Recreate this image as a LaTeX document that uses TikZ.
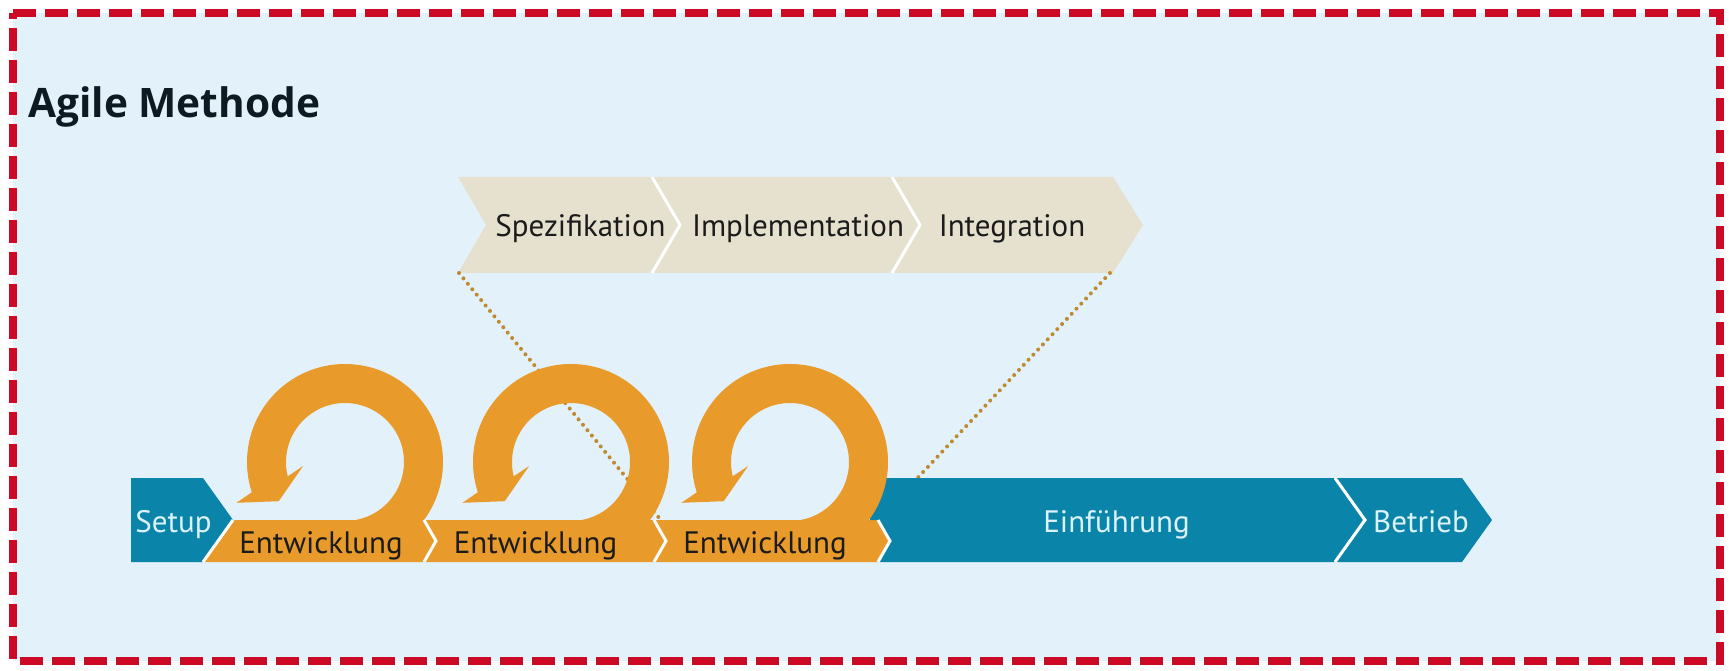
\documentclass[tikz,border=0pt]{standalone}
\usepackage{fontspec}
\setmainfont{PT Sans}
\newfontfamily\headfont{Open Sans}
\usetikzlibrary{calc}
\definecolor{paneblue}{HTML}{E3F2FA}
\definecolor{framered}{HTML}{CC0A25}
\definecolor{phaseblue}{HTML}{0A85A9}
\definecolor{sprintorange}{HTML}{E89A2B}
\definecolor{stepbeige}{HTML}{E6E1CE}
\definecolor{zoomdots}{HTML}{C08A30}
\definecolor{inkdark}{HTML}{1B1B1B}
\definecolor{inklight}{HTML}{DCF2F9}
\definecolor{titleink}{HTML}{0E1A22}

\begin{document}
\begin{tikzpicture}[x=0.5pt, y=0.5pt,
  phase/.style={fill=phaseblue},
  sprint/.style={fill=sprintorange},
  substep/.style={fill=stepbeige},
  gapline/.style={draw=white, line width=1.5pt},
  darklabel/.style={anchor=base, inner sep=0pt, text=inkdark, font=\fontsize{15.5}{18}\selectfont},
  lightlabel/.style={darklabel, text=inklight},
  zoomline/.style={zoomdots, line width=2pt, line cap=round, dash pattern=on 0pt off 3.5pt}]

\useasboundingbox (0,0) rectangle (1729,670);
\fill[white] (0,0) rectangle (1729,670);
\fill[paneblue] (13,9) rectangle (1720,657);
\draw[framered, line width=4pt, dash pattern=on 11.5pt off 4.5pt] (13,657) -- (1720,657) -- (1720,9) -- (13,9) -- cycle;

\node[anchor=base west, inner sep=0pt, text=titleink, font=\headfont\bfseries\fontsize{20.3}{24}\selectfont] (title) at (28,552) {Agile Methode};

% sprint steps on top
\fill[substep] (458,493) -- (652,493) -- (680,445) -- (652,397) -- (458,397) -- (486,445) -- cycle;
\fill[substep] (652,493) -- (892,493) -- (920,445) -- (892,397) -- (652,397) -- (680,445) -- cycle;
\fill[substep] (892,493) -- (1113,493) -- (1143,445) -- (1113,397) -- (892,397) -- (920,445) -- cycle;
\draw[gapline] (652,493) -- (680,445) -- (652,397);
\draw[gapline] (892,493) -- (920,445) -- (892,397);

\coordinate (spec-sw) at (459,397);
\coordinate (integ-se) at (1110,397);
\coordinate (dev3-nw) at (660,151);
\coordinate (dev3-ne) at (879,151);
\draw[zoomline] (spec-sw) -- (dev3-nw);
\draw[zoomline] (integ-se) -- (dev3-ne);

% phases
\fill[phase] (131,192) -- (203,192) -- (233,150) -- (203,108) -- (131,108) -- cycle;
\fill[sprint] (233,150) -- (424,150) -- (436,129) -- (424,108) -- (203,108) -- cycle;
\fill[sprint] (424,150) -- (654,150) -- (666,129) -- (654,108) -- (424,108) -- (436,129) -- cycle;
\fill[sprint] (654,150) -- (878,150) -- (890,129) -- (878,108) -- (654,108) -- (666,129) -- cycle;
\fill[phase] (870,192) -- (1335,192) -- (1365,150) -- (1335,108) -- (878,108) -- (890,129) -- (878,150) -- (870,150) -- cycle;
\fill[phase] (1335,192) -- (1462,192) -- (1492,150) -- (1462,108) -- (1335,108) -- (1365,150) -- cycle;

% loops
\foreach \cx/\lp in {345/loopa, 571/loopb, 790/loopc} {
  \coordinate (\lp) at (\cx,208);
  \fill[sprint] (\lp) ++(-90:98) arc[start angle=-90, end angle=198, radius=98]
    -- ($(\lp)+(200.6:116)$) -- ($(\lp)+(210.6:77)$) -- ($(\lp)+(185.4:42)$)
    -- ($(\lp)+(194:59)$) arc[start angle=194, end angle=-90, radius=59] -- cycle;
}

\draw[gapline] (233,150) -- (203,108);
\draw[gapline] (424,150) -- (436,129) -- (424,108);
\draw[gapline] (654,150) -- (666,129) -- (654,108);
\draw[gapline] (878,150) -- (890,129) -- (878,108);
\draw[gapline] (1335,192) -- (1365,150) -- (1335,108);

\node[lightlabel] (setup) at (173.5,138) {Setup};
\node[darklabel] (dev1) at (321,117) {Entwicklung};
\node[darklabel] (dev2) at (535.5,117) {Entwicklung};
\node[darklabel] (dev3) at (765,117) {Entwicklung};
\node[lightlabel] (intro) at (1116.5,138) {Einführung};
\node[lightlabel] (ops) at (1421,138) {Betrieb};

\node[darklabel] (spec) at (580.5,433) {Spezifikation};
\node[darklabel] (impl) at (798,433) {Implementation};
\node[darklabel] (integ) at (1012,433) {Integration};

\end{tikzpicture}
\end{document}
